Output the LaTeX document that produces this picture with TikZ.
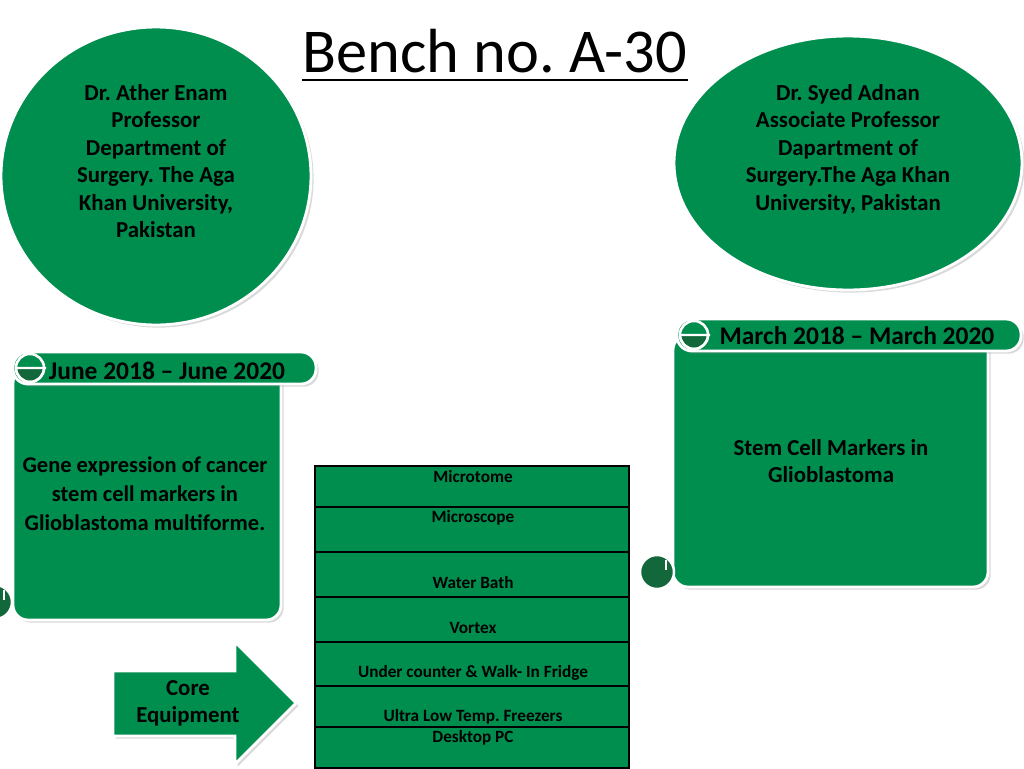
\documentclass[tikz,border=0pt]{standalone}
\usepackage{fontspec}
\setmainfont{Carlito}
\usetikzlibrary{positioning,shapes.geometric,calc,shadows}
\definecolor{benchgreen}{RGB}{0,142,78}
\definecolor{curlgreen}{RGB}{18,104,58}
\frenchspacing

\begin{document}
\begin{tikzpicture}[x=0.02cm,y=-0.02cm,
    txt/.style={font=\bfseries\fontsize{13}{15.6}\selectfont,align=center,text=black,inner sep=0pt},
    celltxt/.style={font=\bfseries\fontsize{9.8}{11}\selectfont,text=black,inner sep=0pt},
    card/.style={fill=benchgreen,draw=white,line width=1.6pt,drop shadow={opacity=0.3,shadow xshift=1.5pt,shadow yshift=-1.5pt}},
    curl/.style={fill=curlgreen,draw=white,line width=1.4pt}]

    \useasboundingbox (0,0) rectangle (1024,768);

    % Title
    \node[font=\fontsize{35.5}{40}\selectfont,inner sep=0pt,anchor=base] (title) at (495,72) {Bench no. A-30};
    \draw[line width=1.2pt] ($(title.base west)+(0,8)$) -- ($(title.base east)+(0,8)$);

    % Supervisor
    \node[ellipse,card,minimum width=6.2cm,minimum height=5.96cm] (enam) at (156,176) {};
    \node[txt] (enamtext) at (156,161) {Dr. Ather Enam\\Professor\\Department of\\Surgery. The Aga\\Khan University,\\Pakistan};

    % Co-supervisor
    \node[ellipse,card,minimum width=6.96cm,minimum height=5.08cm] (adnan) at (848,163) {};
    \node[txt] (adnantext) at (848,149) {Dr. Syed Adnan\\Associate Professor\\Dapartment of\\Surgery.The Aga Khan\\University, Pakistan};

    % Left scroll
    \draw[card,rounded corners=0.3cm] (13,368) rectangle (281,620);
    \draw[card,rounded corners=0.3cm] (13,352) rectangle (316,384);
    \draw[curl] (30,368) circle[radius=14];
    \begin{scope}
        \clip (30,368) circle[radius=14];
        \fill[benchgreen] (14,352) rectangle (46,368);
    \end{scope}
    \draw[white,line width=1.4pt] (30,368) circle[radius=14] (16,368) -- (46,368);
    \draw[curl] (-5,602) circle[radius=17];
    \draw[white,line width=1.4pt] (4,590) -- (4,600);
    \node[txt,font=\bfseries\fontsize{14.5}{16}\selectfont] (leftdates) at (167,371) {June 2018 – June 2020};
    \node[txt,font=\bfseries\fontsize{12.8}{16.5}\selectfont] (leftproject) at (145,494) {Gene expression of cancer\\stem cell markers in\\Glioblastoma multiforme.};

    % Right scroll
    \draw[card,rounded corners=0.3cm] (673,335) rectangle (988,587);
    \draw[card,rounded corners=0.3cm] (677,319) rectangle (1021,351);
    \draw[curl] (694,335) circle[radius=14];
    \begin{scope}
        \clip (694,335) circle[radius=14];
        \fill[benchgreen] (678,319) rectangle (710,335);
    \end{scope}
    \draw[white,line width=1.4pt] (694,335) circle[radius=14] (680,335) -- (710,335);
    \draw[curl] (657,572) circle[radius=17];
    \draw[white,line width=1.4pt] (666,560) -- (666,570);
    \node[txt,font=\bfseries\fontsize{14.5}{16}\selectfont] (rightdates) at (857,336) {March 2018 – March 2020};
    \node[txt] (rightproject) at (831,461) {Stem Cell Markers in\\Glioblastoma};

    % Equipment table
    \draw[fill=benchgreen,line width=0.8pt] (315,466) rectangle (629,768);
    \draw[line width=0.8pt] (315,507) -- (629,507) (315,552) -- (629,552)
        (315,597) -- (629,597) (315,642) -- (629,642)
        (315,686) -- (629,686) (315,727) -- (629,727);
    \node[celltxt] (microtome) at (473,477) {Microtome};
    \node[celltxt] (microscope) at (473,518) {Microscope};
    \node[celltxt] (waterbath) at (473,583) {Water Bath};
    \node[celltxt] (vortex) at (473,628) {Vortex};
    \node[celltxt] (fridge) at (473,673) {Under counter \& Walk- In Fridge};
    \node[celltxt] (freezers) at (473,717) {Ultra Low Temp. Freezers};
    \node[celltxt] (desktop) at (473,738) {Desktop PC};

    % Core equipment arrow
    \draw[card] (113,671) -- (235,671) -- (235,642) -- (296,703) -- (235,764) -- (235,736) -- (113,736) -- cycle;
    \node[txt,font=\bfseries\fontsize{13}{15.3}\selectfont] (core) at (188,703) {Core\\Equipment};
\end{tikzpicture}
\end{document}
